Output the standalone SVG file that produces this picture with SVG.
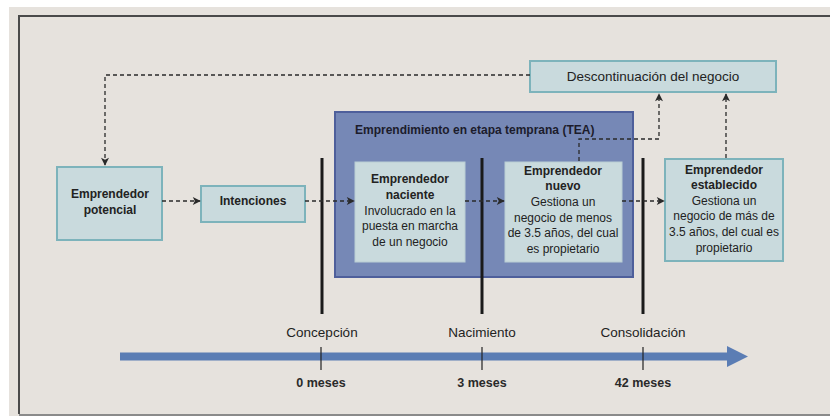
<svg xmlns="http://www.w3.org/2000/svg" width="830" height="416" viewBox="0 0 830 416">
<defs>
<marker id="ah" viewBox="0 0 10 10" refX="9" refY="5" markerWidth="9" markerHeight="8" markerUnits="userSpaceOnUse" orient="auto">
<path d="M0,0 L10,5 L0,10 L2.5,5 Z" fill="#2a2a2a"/>
</marker>
<style>
.box{fill:#c9dadd;stroke:#7db3bb;stroke-width:2}
.inner{fill:#c9dadd;stroke:#b9cdd3;stroke-width:1}
.t{font-family:"Liberation Sans",Arial,sans-serif;font-size:12px;fill:#222;text-anchor:middle}
.b{font-weight:bold}
.dash{fill:none;stroke:#2a2a2a;stroke-width:1.3;stroke-dasharray:4 3}
.bar{stroke:#1a1a1a;stroke-width:3}
.tick{stroke:#222;stroke-width:1.2}
.lbl{font-family:"Liberation Sans",Arial,sans-serif;font-size:13.5px;fill:#222;text-anchor:middle}
.m{font-family:"Liberation Sans",Arial,sans-serif;font-size:12.5px;font-weight:bold;fill:#2a2a2a;text-anchor:middle}
</style>
</defs>
<rect x="0" y="0" width="830" height="416" fill="#ffffff"/>
<rect x="9" y="7" width="821" height="409" fill="#e6e2dd"/>
<path d="M19,414 V16 H830" fill="none" stroke="#4a4a4a" stroke-width="2"/>
<line x1="19" y1="415" x2="830" y2="415" stroke="#8a8a8a" stroke-width="2"/>

<g id="tea">
<rect x="335" y="112" width="298" height="165" fill="#7688b6" stroke="#4e5f9b" stroke-width="2"/>
<text x="355" y="134" font-family="'Liberation Sans',Arial,sans-serif" font-size="12" font-weight="bold" fill="#1c1c2c">Emprendimiento en etapa temprana (TEA)</text>
</g>

<g id="descontinuacion">
<rect class="box" x="530" y="61" width="246" height="31"/>
<text class="t" x="653" y="81" style="font-size:13.5px">Descontinuación del negocio</text>
</g>

<g id="potencial">
<rect class="box" x="57" y="167" width="105" height="73"/>
<text class="t b" x="110" y="198">Emprendedor</text>
<text class="t b" x="110" y="214">potencial</text>
</g>

<g id="intenciones">
<rect class="box" x="201" y="186" width="104" height="36"/>
<text class="t b" x="253" y="205">Intenciones</text>
</g>

<g id="naciente">
<rect class="inner" x="355" y="162" width="110" height="100"/>
<text class="t b" x="410" y="183">Emprendedor</text>
<text class="t b" x="410" y="199">naciente</text>
<text class="t" x="410" y="215">Involucrado en la</text>
<text class="t" x="410" y="230">puesta en marcha</text>
<text class="t" x="410" y="246">de un negocio</text>
</g>

<g id="nuevo">
<rect class="inner" x="505" y="162" width="117" height="100"/>
<text class="t b" x="563" y="175">Emprendedor</text>
<text class="t b" x="563" y="190">nuevo</text>
<text class="t" x="563" y="206">Gestiona un</text>
<text class="t" x="563" y="222">negocio de menos</text>
<text class="t" x="563" y="237">de 3.5 años, del cual</text>
<text class="t" x="563" y="253">es propietario</text>
</g>

<g id="establecido">
<rect class="box" x="665" y="159" width="118" height="102"/>
<text class="t b" x="724" y="174">Emprendedor</text>
<text class="t b" x="724" y="189">establecido</text>
<text class="t" x="724" y="205">Gestiona un</text>
<text class="t" x="724" y="220">negocio de más de</text>
<text class="t" x="724" y="236">3.5 años, del cual es</text>
<text class="t" x="724" y="252">propietario</text>
</g>

<g id="fases">
<line class="bar" x1="322" y1="158" x2="322" y2="314"/>
<line class="bar" x1="482" y1="158" x2="482" y2="314"/>
<line class="bar" x1="643" y1="158" x2="643" y2="314"/>
<text class="lbl" x="322" y="337">Concepción</text>
<text class="lbl" x="482" y="337">Nacimiento</text>
<text class="lbl" x="643" y="337">Consolidación</text>
</g>

<g id="timeline">
<path d="M120,352.5 H727 V346 L748,356.5 L727,367 V360.5 H120 Z" fill="#5b7db4"/>
<line class="tick" x1="321" y1="347" x2="321" y2="370"/>
<line class="tick" x1="482" y1="347" x2="482" y2="370"/>
<line class="tick" x1="643" y1="347" x2="643" y2="370"/>
<text class="m" x="321" y="387">0 meses</text>
<text class="m" x="482" y="387">3 meses</text>
<text class="m" x="643" y="387">42 meses</text>
</g>

<g id="connectors">
<path class="dash" d="M530,75 H105 V165" marker-end="url(#ah)"/>
<path class="dash" d="M162,201 H200" marker-end="url(#ah)"/>
<path class="dash" d="M305,201 H354" marker-end="url(#ah)"/>
<path class="dash" d="M465,201 H504" marker-end="url(#ah)"/>
<path class="dash" d="M622,201 H664" marker-end="url(#ah)"/>
<path class="dash" d="M579,161 V139 H659 V94" marker-end="url(#ah)"/>
<path class="dash" d="M726,158 V94" marker-end="url(#ah)"/>
</g>
</svg>
